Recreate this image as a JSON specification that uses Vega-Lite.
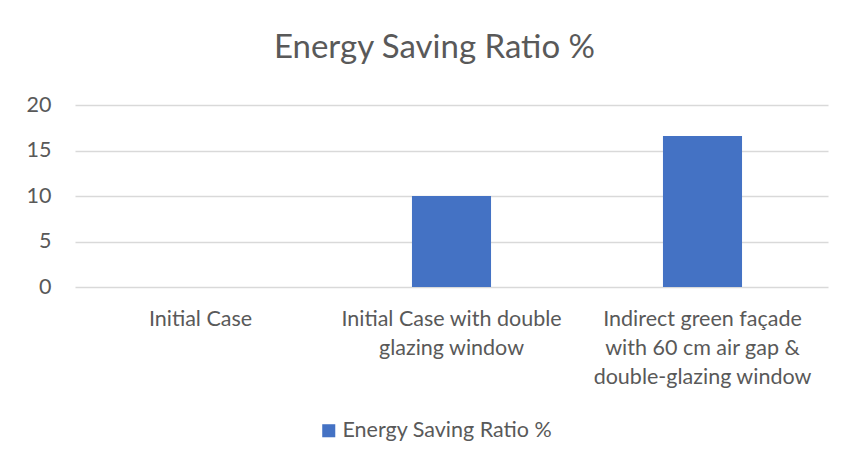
{
  "$schema": "https://vega.github.io/schema/vega-lite/v6.json",
  "width": 753,
  "height": 182,
  "autosize": {"type": "none"},
  "padding": {"left": 75, "top": 105, "right": 17, "bottom": 178},
  "background": "white",
  "title": {
    "text": "Energy Saving Ratio %",
    "anchor": "middle",
    "dx": -17,
    "offset": 29,
    "fontSize": 33,
    "fontWeight": "normal",
    "font": "Lato",
    "color": "#595959"
  },
  "data": {
    "values": [
      {"case": "Initial Case", "series": "Energy Saving Ratio %", "value": 0},
      {"case": "Initial Case with double glazing window", "series": "Energy Saving Ratio %", "value": 10},
      {"case": "Indirect green façade with 60 cm air gap & double-glazing window", "series": "Energy Saving Ratio %", "value": 16.6}
    ]
  },
  "mark": {"type": "bar"},
  "encoding": {
    "x": {
      "field": "case",
      "type": "nominal",
      "sort": null,
      "scale": {"paddingInner": 0.685, "paddingOuter": 0.3425},
      "axis": {
        "title": null,
        "labelAngle": 0,
        "domain": false,
        "ticks": false,
        "labelPadding": 21,
        "labelFont": "Lato",
        "labelFontSize": 21.5,
        "labelColor": "#595959",
        "labelLineHeight": 29,
        "labelBaseline": "top",
        "labelLimit": 300,
        "labelExpr": "datum.value == 'Initial Case with double glazing window' ? ['Initial Case with double', 'glazing window'] : datum.value == 'Initial Case' ? 'Initial Case' : ['Indirect green façade', 'with 60 cm air gap &', 'double-glazing window']"
      }
    },
    "y": {
      "field": "value",
      "type": "quantitative",
      "scale": {"domain": [0, 20], "nice": false},
      "axis": {
        "title": null,
        "values": [0, 5, 10, 15, 20],
        "domain": false,
        "ticks": false,
        "labelPadding": 24,
        "labelFont": "Lato",
        "labelFontSize": 21.5,
        "labelColor": "#595959",
        "gridColor": "#d9d9d9",
        "gridWidth": 1.3
      }
    },
    "color": {
      "field": "series",
      "type": "nominal",
      "scale": {"range": ["#4472C4"]},
      "legend": {
        "title": null,
        "orient": "none",
        "legendX": 243,
        "legendY": 315,
        "symbolType": "square",
        "symbolSize": 170,
        "labelFont": "Lato",
        "labelFontSize": 21.5,
        "labelColor": "#595959",
        "labelOffset": 3,
        "labelLimit": 400
      }
    }
  },
  "config": {
    "view": {"stroke": null}
  }
}
